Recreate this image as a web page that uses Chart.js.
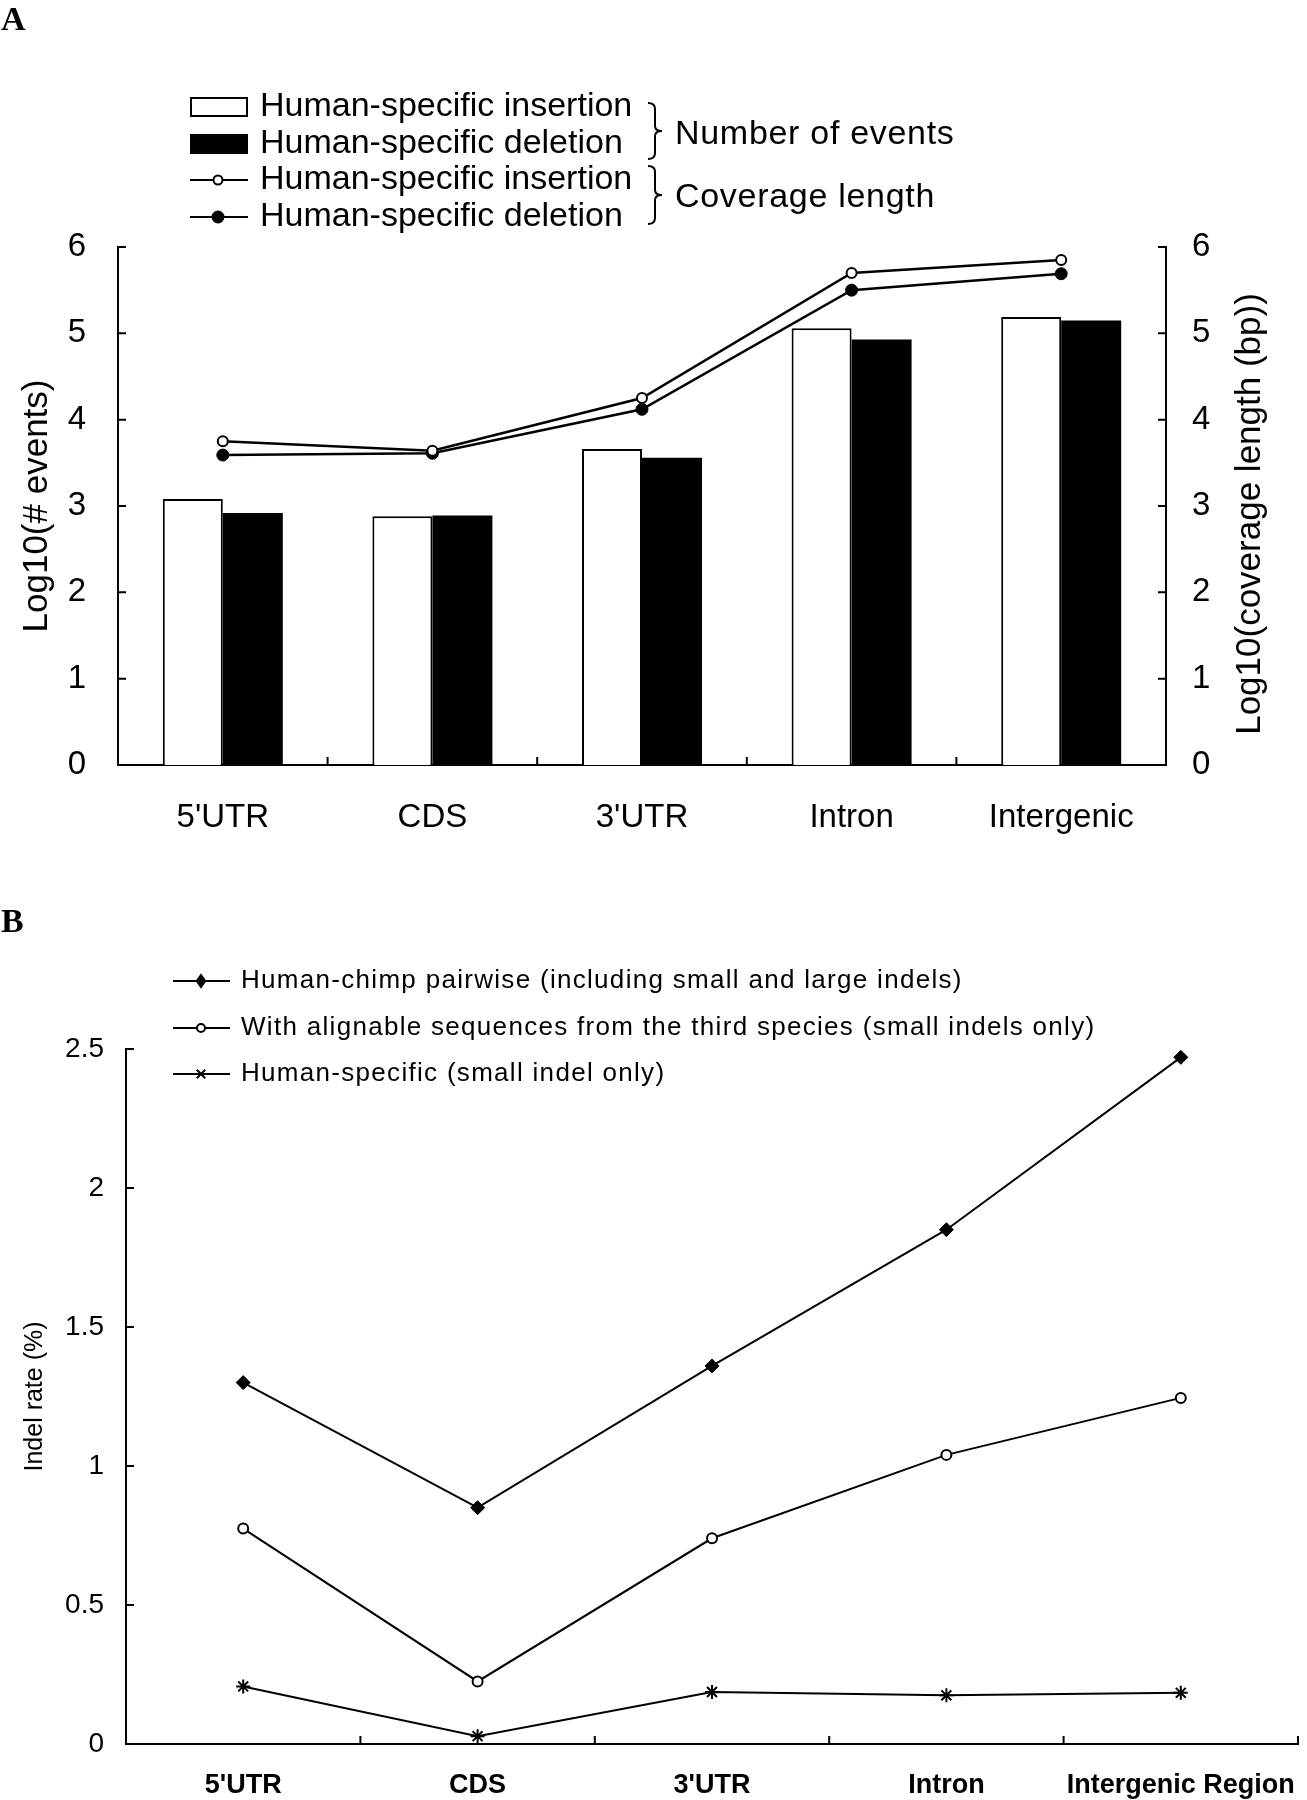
<!DOCTYPE html>
<html>
<head>
<meta charset="utf-8">
<title>Human-specific indels by region</title>
<script src="https://cdn.jsdelivr.net/npm/chart.js@4.4.1/dist/chart.umd.min.js"></script>
<style>
  html, body { margin: 0; padding: 0; background: #fff; }
  .panel { position: absolute; left: 0; width: 1307px; }
  #panelA { top: 0; height: 880px; }
  #panelB { top: 880px; height: 920px; }
</style>
</head>
<body>
<div class="panel" id="panelA"><canvas id="chartA"></canvas></div>
<div class="panel" id="panelB"><canvas id="chartB"></canvas></div>
<script>
// --- 1. Data ---
const regionsA = ["5'UTR", "CDS", "3'UTR", "Intron", "Intergenic"];
const seriesA = ['Human-specific insertion', 'Human-specific deletion', 'Human-specific insertion', 'Human-specific deletion'];
const groupsA = ['Number of events', 'Coverage length'];
const eventsInsertion = [3.08, 2.88, 3.66, 5.06, 5.19];
const eventsDeletion = [2.92, 2.89, 3.56, 4.93, 5.15];
const coverageInsertion = [3.75, 3.64, 4.25, 5.70, 5.85];
const coverageDeletion = [3.59, 3.61, 4.12, 5.50, 5.69];
const ticksA = [0, 1, 2, 3, 4, 5, 6];

const regionsB = ["5'UTR", "CDS", "3'UTR", "Intron", "Intergenic Region"];
const seriesB = [
    'Human-chimp pairwise (including small and large indels)',
    'With alignable sequences from the third species (small indels only)',
    'Human-specific (small indel only)'
];
const rateHumanChimp = [1.30, 0.85, 1.36, 1.85, 2.47];
const rateThirdSpecies = [0.775, 0.225, 0.74, 1.04, 1.245];
const rateHumanSpecific = [0.207, 0.028, 0.187, 0.175, 0.184];
const ticksB = [0, 0.5, 1, 1.5, 2, 2.5];

// --- 2. Shared look ---
const FONT = "'Liberation Sans', Arial, sans-serif";
const SERIF = "'Liberation Serif', 'Times New Roman', serif";
const TICK_LEN = 8;
Chart.defaults.font.family = FONT;
Chart.defaults.color = '#000';

function marker(ctx, style, x, y, r, fill) {
    ctx.save();
    ctx.fillStyle = fill;
    ctx.strokeStyle = '#000';
    ctx.lineWidth = 2;
    ctx.beginPath();
    if (style === 'rectRot') {
        ctx.moveTo(x, y - r); ctx.lineTo(x + r * 0.7, y); ctx.lineTo(x, y + r); ctx.lineTo(x - r * 0.7, y);
        ctx.closePath(); ctx.fill(); ctx.stroke();
    } else if (style === 'star') {
        ctx.moveTo(x - r, y); ctx.lineTo(x + r, y);
        ctx.moveTo(x - r * 0.7, y - r * 0.7); ctx.lineTo(x + r * 0.7, y + r * 0.7);
        ctx.moveTo(x - r * 0.7, y + r * 0.7); ctx.lineTo(x + r * 0.7, y - r * 0.7);
        ctx.stroke();
    } else {
        ctx.arc(x, y, r, 0, Math.PI * 2); ctx.fill(); ctx.stroke();
    }
    ctx.restore();
}

function brace(ctx, x, y0, y1, w) {
    const m = (y0 + y1) / 2;
    const h = w / 2;
    ctx.beginPath();
    ctx.moveTo(x, y0);
    ctx.quadraticCurveTo(x + h, y0, x + h, y0 + 6);
    ctx.lineTo(x + h, m - 5);
    ctx.quadraticCurveTo(x + h, m, x + w, m);
    ctx.quadraticCurveTo(x + h, m, x + h, m + 5);
    ctx.lineTo(x + h, y1 - 6);
    ctx.quadraticCurveTo(x + h, y1, x, y1);
    ctx.stroke();
}

// ticks pointing into the plot, x ticks between categories
const innerTicks = {
    id: 'innerTicks',
    afterDraw(chart) {
        const { ctx, chartArea } = chart;
        ctx.save();
        ctx.strokeStyle = '#000';
        ctx.lineWidth = 2;
        ctx.beginPath();
        Object.values(chart.scales).forEach(scale => {
            if (scale.axis === 'y') {
                const left = scale.position === 'left';
                const x = left ? chartArea.left : chartArea.right;
                scale.ticks.forEach((t, i) => {
                    const y = scale.getPixelForTick(i);
                    ctx.moveTo(x, y);
                    ctx.lineTo(x + (left ? TICK_LEN : -TICK_LEN), y);
                });
            } else {
                for (let i = 0; i < scale.ticks.length; i++) {
                    const x = scale.getPixelForValue(i + 0.5);
                    ctx.moveTo(x, chartArea.bottom);
                    ctx.lineTo(x, chartArea.bottom - TICK_LEN);
                }
            }
        });
        ctx.stroke();
        ctx.restore();
    }
};

// --- 3. Panel A: bars + coverage lines ---
const legendA = {
    id: 'legendA',
    afterDraw(chart) {
        const ctx = chart.ctx;
        const rows = [107, 144, 180, 217];
        ctx.save();
        ctx.font = `34px ${FONT}`;
        ctx.textBaseline = 'middle';
        chart.data.datasets.forEach((d, i) => {
            const y = rows[i];
            if (d.type === 'line') {
                ctx.strokeStyle = '#000';
                ctx.lineWidth = 2;
                ctx.beginPath(); ctx.moveTo(190, y); ctx.lineTo(248, y); ctx.stroke();
                marker(ctx, 'circle', 218, y, d.pointRadius - 0.5, d.pointBackgroundColor);
            } else {
                ctx.fillStyle = d.backgroundColor;
                ctx.fillRect(190, y - 10, 58, 20);
                ctx.strokeStyle = '#000';
                ctx.lineWidth = 2;
                ctx.strokeRect(191, y - 9, 56, 18);
            }
            ctx.fillStyle = '#000';
            ctx.fillText(d.label, 260, y);
        });
        ctx.lineWidth = 2;
        ctx.strokeStyle = '#000';
        brace(ctx, 648, 103, 159, 14);
        brace(ctx, 648, 166, 224, 14);
        ctx.letterSpacing = '0.7px';
        ctx.fillText(groupsA[0], 675, 135);
        ctx.fillText(groupsA[1], 675, 198);
        ctx.letterSpacing = '0px';

        // right axis title, read bottom to top
        const a = chart.chartArea;
        ctx.save();
        ctx.translate(1250, (a.top + a.bottom) / 2 + 8);
        ctx.rotate(-Math.PI / 2);
        ctx.textAlign = 'center';
        ctx.font = `35px ${FONT}`;
        ctx.fillText('Log10(coverage length (bp))', 0, 0);
        ctx.restore();

        ctx.font = `bold 34px ${SERIF}`;
        ctx.textBaseline = 'alphabetic';
        ctx.fillText('A', 1, 30);
        ctx.restore();
    }
};

const axisLine = { display: true, color: '#000', width: 2 };
const noGrid = { display: false, drawTicks: false };

new Chart(document.getElementById('chartA'), {
    type: 'bar',
    data: {
        labels: regionsA,
        datasets: [
            {
                label: seriesA[0], data: eventsInsertion, yAxisID: 'y', order: 2,
                backgroundColor: '#fff', borderColor: '#000', borderWidth: 2,
                categoryPercentage: 0.5725, barPercentage: 1
            },
            {
                label: seriesA[1], data: eventsDeletion, yAxisID: 'y', order: 2,
                backgroundColor: '#000', borderColor: '#000', borderWidth: 0,
                categoryPercentage: 0.5725, barPercentage: 1
            },
            {
                type: 'line', label: seriesA[2], data: coverageInsertion, yAxisID: 'y1', order: 1,
                borderColor: '#000', borderWidth: 2.5, tension: 0,
                pointStyle: 'circle', pointRadius: 5, pointBackgroundColor: '#fff',
                pointBorderColor: '#000', pointBorderWidth: 2
            },
            {
                type: 'line', label: seriesA[3], data: coverageDeletion, yAxisID: 'y1', order: 1,
                borderColor: '#000', borderWidth: 2.5, tension: 0,
                pointStyle: 'circle', pointRadius: 6, pointBackgroundColor: '#000',
                pointBorderColor: '#000', pointBorderWidth: 1
            }
        ]
    },
    options: {
        responsive: true, maintainAspectRatio: false, animation: false,
        layout: { padding: { top: 247, left: 0, right: 0, bottom: 0 } },
        plugins: { legend: { display: false }, tooltip: { enabled: false } },
        scales: {
            x: {
                offset: true, grid: { display: false, drawTicks: false, offset: true }, border: axisLine,
                ticks: { font: { size: 33, lineHeight: 3.2 }, padding: 0, maxRotation: 0, autoSkip: false },
                afterFit(s) { s.height = 115; }
            },
            y: {
                position: 'left', min: 0, max: 6,
                afterBuildTicks(s) { s.ticks = ticksA.map(v => ({ value: v })); },
                grid: noGrid, border: axisLine,
                ticks: { font: { size: 33 }, padding: 32 },
                title: { display: true, text: 'Log10(# events)', font: { size: 35 }, padding: { top: 16, bottom: 0 } },
                afterFit(s) { s.width = 118; }
            },
            y1: {
                position: 'right', min: 0, max: 6,
                afterBuildTicks(s) { s.ticks = ticksA.map(v => ({ value: v })); },
                grid: noGrid, border: axisLine,
                ticks: { font: { size: 33 }, padding: 26 },
                afterFit(s) { s.width = 141; }
            }
        }
    },
    plugins: [innerTicks, legendA]
});

// --- 4. Panel B: indel rates ---
const legendB = {
    id: 'legendB',
    afterDraw(chart) {
        const ctx = chart.ctx;
        const rows = [101, 148, 194];
        ctx.save();
        ctx.font = `26px ${FONT}`;
        ctx.letterSpacing = '1.3px';
        ctx.textBaseline = 'middle';
        chart.data.datasets.forEach((d, i) => {
            const y = rows[i];
            ctx.strokeStyle = '#000';
            ctx.lineWidth = 2;
            ctx.beginPath(); ctx.moveTo(173, y); ctx.lineTo(230, y); ctx.stroke();
            marker(ctx, d.pointStyle, 201, y, d.pointRadius - 1, d.pointBackgroundColor);
            ctx.fillStyle = '#000';
            ctx.fillText(d.label, 241, y);
        });
        ctx.letterSpacing = '0px';
        ctx.font = `bold 34px ${SERIF}`;
        ctx.textBaseline = 'alphabetic';
        ctx.fillText('B', 1, 52);
        ctx.restore();
    }
};

new Chart(document.getElementById('chartB'), {
    type: 'line',
    data: {
        labels: regionsB,
        datasets: [
            {
                label: seriesB[0], data: rateHumanChimp, borderColor: '#000', borderWidth: 2, tension: 0,
                pointStyle: 'rectRot', pointRadius: 7, pointBackgroundColor: '#000',
                pointBorderColor: '#000', pointBorderWidth: 1
            },
            {
                label: seriesB[1], data: rateThirdSpecies, borderColor: '#000', borderWidth: 2, tension: 0,
                pointStyle: 'circle', pointRadius: 5, pointBackgroundColor: '#fff',
                pointBorderColor: '#000', pointBorderWidth: 2
            },
            {
                label: seriesB[2], data: rateHumanSpecific, borderColor: '#000', borderWidth: 2, tension: 0,
                pointStyle: 'star', pointRadius: 7, pointBackgroundColor: '#000',
                pointBorderColor: '#000', pointBorderWidth: 2
            }
        ]
    },
    options: {
        responsive: true, maintainAspectRatio: false, animation: false,
        layout: { padding: { top: 169, left: 0, right: 1, bottom: 0 } },
        plugins: { legend: { display: false }, tooltip: { enabled: false } },
        scales: {
            x: {
                offset: true, grid: { display: false, drawTicks: false, offset: true }, border: axisLine,
                ticks: { font: { size: 27, weight: 'bold', lineHeight: 3.1 }, padding: 0, maxRotation: 0, autoSkip: false },
                afterFit(s) { s.height = 56; }
            },
            y: {
                position: 'left', min: 0, max: 2.5,
                afterBuildTicks(s) { s.ticks = ticksB.map(v => ({ value: v })); },
                grid: noGrid, border: axisLine,
                ticks: { font: { size: 28 }, padding: 22, callback: v => String(v) },
                title: { display: true, text: 'Indel rate (%)', font: { size: 25 }, padding: { top: 20, bottom: 0 } },
                afterFit(s) { s.width = 126; }
            }
        }
    },
    plugins: [innerTicks, legendB]
});
</script>
</body>
</html>
